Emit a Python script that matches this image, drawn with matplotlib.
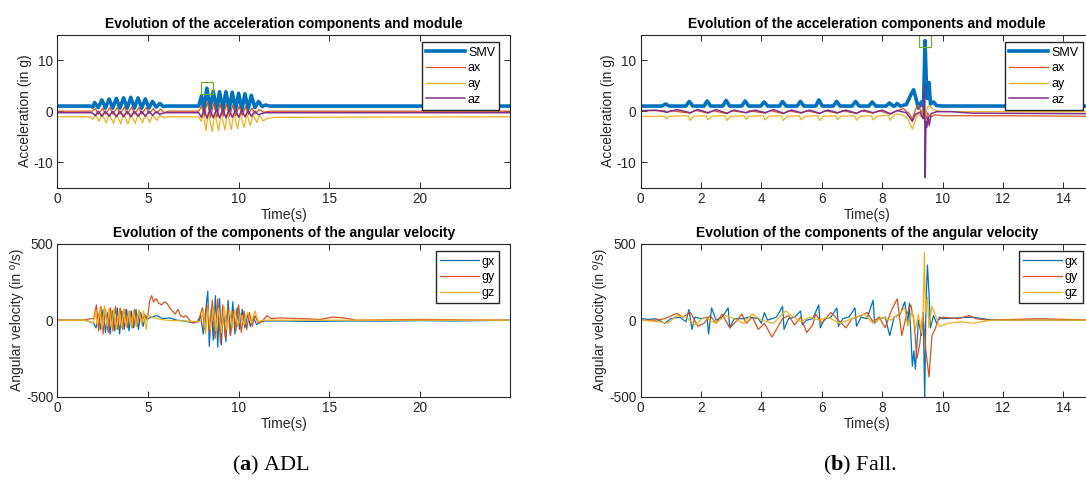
import matplotlib
matplotlib.use("Agg")
import matplotlib.pyplot as plt

plt.rcParams['font.family'] = ['Liberation Sans', 'DejaVu Sans']
plt.rcParams['axes.unicode_minus'] = False
plt.rcParams['mathtext.fontset'] = 'custom'
plt.rcParams['mathtext.rm'] = 'Liberation Serif'
plt.rcParams['mathtext.bf'] = 'Liberation Serif:bold'

BLUE = "#0072BD"
ORANGE = "#D95319"
YELLOW = "#EDB120"
PURPLE = "#7E2F8E"
GREEN = "#77AC30"

# ---------------- ADL : (time s, value) ----------------
adl_smv = [(0, 1.0), (1.8, 1.0), (1.95, 0.8), (2.05, 1.7), (2.25, 0.7), (2.45, 2.2), (2.65, 0.6),
           (2.85, 2.4), (3.05, 0.6), (3.25, 2.5), (3.45, 0.6), (3.65, 2.6), (3.85, 0.6), (4.05, 2.7),
           (4.25, 0.6), (4.45, 2.6), (4.65, 0.6), (4.85, 2.4), (5.05, 0.6), (5.25, 1.9), (5.45, 0.8),
           (5.65, 1.5), (5.85, 0.9), (6.0, 1.0), (7.8, 1.0), (7.95, 3.0), (8.08, 0.4), (8.25, 4.5),
           (8.42, 0.4), (8.6, 3.9), (8.78, 0.3), (8.95, 3.8), (9.13, 0.3), (9.3, 3.8), (9.48, 0.3),
           (9.65, 3.7), (9.83, 0.3), (10.0, 3.5), (10.18, 0.3), (10.35, 3.4), (10.53, 0.4), (10.7, 3.1),
           (10.9, 0.7), (11.1, 1.9), (11.3, 0.9), (11.5, 1.2), (11.7, 1.0), (25, 1.0)]

adl_ax = [(0, 0.0), (1.9, 0.0), (2.1, 0.5), (2.25, -0.6), (2.5, 0.6), (2.65, -0.6), (2.9, 0.7),
          (3.05, -0.6), (3.3, 0.7), (3.45, -0.6), (3.7, 0.8), (3.85, -0.6), (4.1, 0.8), (4.25, -0.6),
          (4.5, 0.7), (4.65, -0.6), (4.9, 0.7), (5.05, -0.5), (5.3, 0.5), (5.45, -0.4), (5.7, 0.4),
          (5.9, -0.3), (6.1, 0.0), (7.8, 0.0), (7.97, 1.0), (8.1, -1.0), (8.28, 2.0), (8.45, -1.2),
          (8.63, 1.6), (8.8, -1.2), (8.98, 1.5), (9.15, -1.0), (9.33, 1.4), (9.5, -1.0), (9.68, 1.2),
          (9.85, -0.9), (10.03, 1.0), (10.2, -0.8), (10.38, 0.9), (10.55, -0.7), (10.73, 0.6),
          (10.92, -0.5), (11.13, 0.3), (11.4, -0.2), (11.7, 0.0), (25, 0.0)]

adl_ay = [(0, -1.1), (1.8, -1.1), (1.95, -1.6), (2.1, -0.6), (2.3, -2.0), (2.45, -0.5), (2.7, -2.3),
          (2.85, -0.5), (3.1, -2.4), (3.25, -0.5), (3.5, -2.5), (3.65, -0.5), (3.9, -2.5), (4.05, -0.5),
          (4.3, -2.4), (4.45, -0.5), (4.7, -2.3), (4.85, -0.6), (5.1, -2.2), (5.25, -0.7), (5.5, -1.8),
          (5.65, -0.8), (5.85, -1.3), (6.0, -1.1), (7.8, -1.1), (7.93, -2.0), (8.05, -0.5), (8.2, -3.8),
          (8.32, -0.3), (8.55, -4.0), (8.68, -0.3), (8.9, -3.8), (9.03, -0.3), (9.25, -3.7), (9.38, -0.3),
          (9.6, -3.6), (9.73, -0.4), (9.95, -3.4), (10.08, -0.4), (10.3, -3.2), (10.45, -0.5),
          (10.65, -2.8), (10.8, -0.6), (11.0, -2.2), (11.15, -0.8), (11.35, -1.9), (11.6, -1.4),
          (12.0, -1.2), (25, -1.1)]

adl_az = [(0, -0.3), (1.9, -0.3), (2.1, -0.9), (2.25, 0.0), (2.45, -1.0), (2.65, 0.0), (2.85, -1.0),
          (3.05, 0.0), (3.25, -1.1), (3.45, 0.0), (3.65, -1.1), (3.85, 0.0), (4.05, -1.1), (4.25, 0.0),
          (4.45, -1.0), (4.65, 0.0), (4.85, -1.0), (5.05, 0.0), (5.25, -0.8), (5.45, -0.1), (5.65, -0.6),
          (5.9, -0.3), (7.8, -0.3), (7.95, -1.2), (8.1, 0.3), (8.25, -1.4), (8.42, 0.3), (8.6, -1.3),
          (8.78, 0.3), (8.95, -1.3), (9.13, 0.3), (9.3, -1.3), (9.48, 0.3), (9.65, -1.2), (9.83, 0.2),
          (10.0, -1.2), (10.18, 0.2), (10.35, -1.1), (10.53, 0.1), (10.7, -1.0), (10.9, 0.0),
          (11.1, -0.7), (11.4, -0.3), (25, -0.3)]

adl_gx = [(0, 0), (1.5, 0), (1.8, -10), (2.0, -20), (2.13, -50), (2.26, 40), (2.39, -60), (2.52, 70),
          (2.65, -80), (2.78, 50), (2.91, -90), (3.04, 60), (3.17, -70), (3.3, 80), (3.43, -90),
          (3.56, 60), (3.69, -60), (3.82, 70), (3.95, -70), (4.08, 60), (4.21, -50), (4.34, 70),
          (4.47, -60), (4.6, 50), (4.73, -40), (4.86, 30), (5.0, 10), (5.2, 20), (5.5, 30), (5.8, 10),
          (6.2, 15), (6.6, 0), (7.0, -5), (7.4, -15), (7.8, -10), (7.9, 30), (8.05, -90), (8.18, 60),
          (8.3, 190), (8.38, -170), (8.5, 80), (8.6, -130), (8.72, 160), (8.85, -175), (8.95, 140),
          (9.05, -160), (9.15, 80), (9.3, -140), (9.42, 130), (9.55, -100), (9.68, 120), (9.8, -90),
          (9.92, 80), (10.05, -60), (10.2, 70), (10.35, -50), (10.5, 40), (10.65, -40), (10.8, 20),
          (11.0, -30), (11.2, -10), (11.5, -5), (12.5, -5), (14, -8), (16, -5), (18, -6), (20, -3),
          (22, -5), (25, 0)]

adl_gy = [(0, 0), (1.5, 0), (1.8, 10), (2.0, 10), (2.15, 100), (2.28, -70), (2.4, 90), (2.52, -90),
          (2.65, 70), (2.8, -80), (2.93, 80), (3.06, -70), (3.2, 90), (3.33, -60), (3.46, 80),
          (3.6, -60), (3.73, 70), (3.86, -50), (4.0, 60), (4.13, -50), (4.26, 70), (4.4, -40),
          (4.53, 60), (4.66, -20), (4.8, 40), (4.95, 0), (5.1, 130), (5.2, 160), (5.3, 120), (5.45, 140),
          (5.6, 110), (5.75, 100), (5.9, 120), (6.05, 110), (6.2, 80), (6.35, 60), (6.5, 40), (6.65, 70),
          (6.8, 30), (6.95, 20), (7.1, 30), (7.3, 0), (7.5, -20), (7.7, -10), (7.85, 20), (8.0, 80),
          (8.12, -60), (8.25, 100), (8.4, -80), (8.55, 130), (8.7, -120), (8.85, 140), (9.0, -150),
          (9.12, 100), (9.27, -120), (9.4, 80), (9.55, -100), (9.7, 60), (9.85, -70), (10.0, 100),
          (10.15, -80), (10.3, 60), (10.45, -60), (10.6, 50), (10.75, -40), (10.9, 30), (11.1, -20),
          (11.3, -10), (11.55, 30), (11.8, 10), (12.3, 15), (13.5, 10), (14.5, 5), (15.2, 20),
          (15.8, 15), (16.5, 0), (20, 5), (25, 0)]

adl_gz = [(0, 0), (1.5, 0), (1.8, -10), (2.0, -20), (2.1, 60), (2.2, -30), (2.35, 80), (2.45, -60),
          (2.6, 90), (2.75, -40), (2.85, 80), (3.0, -50), (3.1, 70), (3.25, -60), (3.4, 60), (3.55, -50),
          (3.65, 70), (3.8, -40), (3.95, 60), (4.1, -50), (4.2, 60), (4.35, -40), (4.5, 70), (4.65, -30),
          (4.75, 60), (4.9, -60), (5.0, 40), (5.2, 20), (5.5, 10), (6.0, 0), (7.0, -5), (7.9, -10),
          (8.05, 70), (8.18, -90), (8.3, 80), (8.45, -60), (8.6, 90), (8.75, -70), (8.9, 80),
          (9.05, -80), (9.2, 90), (9.35, -60), (9.5, 70), (9.65, -50), (9.8, 70), (9.95, -40),
          (10.1, 40), (10.3, -30), (10.5, 50), (10.7, -20), (10.9, 60), (11.1, -10), (11.3, 0), (25, 0)]

# ---------------- Fall ----------------
fall_smv = [(0, 1.0), (0.7, 1.0), (0.83, 1.4), (0.95, 1.0), (1.5, 1.0), (1.61, 1.9), (1.73, 1.0),
            (2.1, 1.0), (2.2, 2.0), (2.32, 1.0), (2.72, 1.0), (2.83, 2.1), (2.95, 1.0), (3.35, 1.0),
            (3.46, 2.0), (3.58, 1.0), (3.98, 1.0), (4.09, 1.8), (4.21, 1.0), (4.6, 1.0), (4.7, 1.9),
            (4.82, 1.0), (5.18, 1.0), (5.29, 1.9), (5.41, 1.0), (5.8, 1.0), (5.9, 2.2), (6.02, 1.0),
            (6.38, 1.0), (6.49, 1.9), (6.61, 1.0), (7.0, 1.0), (7.12, 1.9), (7.24, 1.0), (7.56, 1.0),
            (7.67, 1.8), (7.79, 1.0), (8.13, 1.0), (8.24, 1.6), (8.36, 1.0), (8.42, 1.0), (8.49, 1.5),
            (8.6, 1.0), (8.8, 1.3), (8.95, 3.2), (9.04, 4.2), (9.12, 2.5), (9.2, 0.6), (9.3, 1.8),
            (9.37, 0.9), (9.42, 13.8), (9.46, 6.0), (9.5, 2.5), (9.55, 5.6), (9.6, 1.4), (9.7, 1.8),
            (9.8, 1.1), (10.0, 1.0), (15, 1.0)]

fall_ax = [(0, 0.1), (0.8, 0.1), (0.86, -0.3), (1.0, 0.1), (1.64, -0.4), (1.8, 0.2), (2.23, -0.4),
           (2.4, 0.1), (2.86, -0.5), (3.0, 0.1), (3.49, -0.3), (3.6, 0.1), (4.12, -0.4), (4.3, 0.1),
           (4.73, -0.5), (4.9, 0.1), (5.32, -0.4), (5.5, 0.1), (5.93, -0.5), (6.1, 0.1), (6.52, -0.4),
           (6.7, 0.1), (7.15, -0.5), (7.3, 0.1), (7.7, -0.4), (7.9, 0.1), (8.27, -0.6), (8.45, 0.0),
           (8.7, 0.5), (8.9, -0.5), (9.0, -1.6), (9.1, 0.3), (9.2, 1.2), (9.3, -0.4), (9.39, 1.5),
           (9.44, -2.0), (9.5, -0.3), (9.6, -1.2), (9.75, -0.7), (10.0, -0.9), (12, -0.9), (15, -1.0)]

fall_ay = [(0, -1.0), (0.8, -1.0), (0.86, -1.5), (0.95, -1.0), (1.58, -0.9), (1.64, -1.8), (1.75, -1.0),
           (2.17, -0.9), (2.23, -1.7), (2.35, -1.0), (2.8, -0.9), (2.86, -1.8), (2.98, -1.0),
           (3.43, -0.9), (3.49, -1.6), (3.6, -1.0), (4.06, -0.9), (4.12, -1.7), (4.24, -1.0),
           (4.67, -0.9), (4.73, -1.8), (4.85, -1.0), (5.26, -0.9), (5.32, -1.7), (5.44, -1.0),
           (5.87, -0.9), (5.93, -1.8), (6.05, -1.0), (6.46, -0.9), (6.52, -1.7), (6.64, -1.0),
           (7.09, -0.9), (7.15, -1.8), (7.27, -1.0), (7.64, -0.9), (7.7, -1.7), (7.82, -1.0),
           (8.21, -0.8), (8.27, -1.8), (8.38, -0.8), (8.5, -0.5), (8.7, -0.8), (8.85, -1.5),
           (9.0, -3.5), (9.08, -2.2), (9.18, -0.4), (9.3, -1.2), (9.38, 0.8), (9.42, -1.8),
           (9.47, 0.2), (9.52, 1.0), (9.6, 0.9), (9.7, 0.3), (9.9, 0.0), (10.5, -0.1), (15, -0.1)]

fall_az = [(0, 0.1), (0.5, 0.2), (0.86, -0.2), (1.2, 0.3), (1.64, -0.3), (1.9, 0.3), (2.23, -0.3),
           (2.5, 0.3), (2.86, -0.4), (3.1, 0.2), (3.49, -0.3), (3.8, 0.2), (4.12, -0.3), (4.4, 0.3),
           (4.73, -0.4), (5.0, 0.2), (5.32, -0.3), (5.6, 0.2), (5.93, -0.4), (6.2, 0.2), (6.52, -0.3),
           (6.8, 0.2), (7.15, -0.4), (7.4, 0.2), (7.7, -0.3), (8.0, 0.2), (8.27, -0.5), (8.5, 0.1),
           (8.8, -0.3), (9.0, -2.0), (9.1, -0.6), (9.25, -0.2), (9.36, -1.5), (9.405, 5.0),
           (9.425, -13.0), (9.45, -2.0), (9.48, -3.2), (9.52, -1.0), (9.56, -2.8), (9.62, -0.5),
           (9.8, -0.1), (10.3, -0.1), (11.0, -0.4), (15, -0.5)]

fall_gx = [(0, 10), (0.3, 5), (0.5, 10), (0.8, -20), (1.0, 10), (1.3, 20), (1.5, -10), (1.6, 70),
           (1.7, -60), (1.8, 20), (2.0, 10), (2.2, 20), (2.25, -90), (2.35, 80), (2.5, 0), (2.7, 20),
           (2.9, 80), (2.95, -50), (3.1, 10), (3.4, 10), (3.6, 20), (3.9, 10), (4.0, -20), (4.1, 50),
           (4.2, 0), (4.5, 20), (4.7, 90), (4.75, -60), (4.9, 10), (5.1, 20), (5.3, 60), (5.35, -30),
           (5.5, 0), (5.7, 10), (5.9, 100), (5.95, -50), (6.1, 10), (6.3, 20), (6.5, 80), (6.55, -40),
           (6.7, 10), (6.9, 20), (7.1, 80), (7.15, -40), (7.3, 20), (7.5, 10), (7.7, 130), (7.75, -20),
           (7.9, 10), (8.1, 20), (8.25, -100), (8.4, 20), (8.6, 40), (8.75, 120), (8.85, -20),
           (8.9, 110), (9.0, -300), (9.05, -200), (9.1, -320), (9.2, 0), (9.3, -100), (9.36, 50),
           (9.41, -520), (9.45, 100), (9.5, 360), (9.55, 180), (9.6, -50), (9.7, 30), (9.8, -20),
           (9.9, 20), (10.0, 10), (11, 20), (11.5, 5), (12, 0), (15, 0)]

fall_gy = [(0, 0), (0.5, 0), (0.8, 10), (1.2, 45), (1.4, 20), (1.65, 50), (1.9, -40), (2.1, -20),
           (2.3, 30), (2.5, -20), (2.7, 40), (2.95, -50), (3.2, 0), (3.35, 40), (3.5, -20), (3.7, 20),
           (3.9, -60), (4.1, -20), (4.35, -110), (4.5, -60), (4.7, 10), (4.9, 30), (5.1, -30), (5.3, 20),
           (5.5, -80), (5.7, -30), (5.8, 40), (6.0, -20), (6.3, 50), (6.5, 10), (6.8, -50), (7.0, 10),
           (7.3, 30), (7.5, 50), (7.7, -10), (7.9, 20), (8.1, -50), (8.3, 60), (8.5, 140), (8.65, -100),
           (8.8, 30), (8.95, 100), (9.05, 0), (9.15, -250), (9.25, -150), (9.35, 50), (9.45, -200),
           (9.55, -370), (9.65, -100), (9.75, -60), (9.85, 0), (10.0, 20), (10.5, 10), (10.9, 30),
           (11.1, 10), (11.5, 0), (13.2, 10), (15, 0)]

fall_gz = [(0, 0), (0.6, -10), (0.9, -20), (1.2, 30), (1.5, 20), (1.8, -30), (2.1, 20), (2.5, -20),
           (2.8, 30), (3.1, 10), (3.4, -20), (3.7, 40), (4.0, 0), (4.4, -20), (4.8, 60), (5.0, 30),
           (5.3, -10), (5.6, 20), (5.9, 0), (6.2, 20), (6.6, -20), (7.0, 10), (7.4, 40), (7.7, -20),
           (8.0, 20), (8.3, 0), (8.6, 50), (8.75, 80), (8.85, -40), (9.0, 60), (9.1, -60), (9.2, 40),
           (9.3, -80), (9.36, 80), (9.40, 440), (9.43, 50), (9.5, 150), (9.55, -50), (9.65, 90),
           (9.75, 40), (9.9, -40), (10.2, -20), (10.6, -10), (11.0, -20), (11.3, -10), (11.6, 0), (15, 0)]

adl_peak = (8.27, 4.5)
fall_peak = (9.42, 13.8)


def xy(pairs):
    t, v = zip(*pairs)
    return list(t), list(v)


def style(ax, xlim, ylim, xticks, yticks):
    ax.set_xlim(*xlim)
    ax.set_ylim(*ylim)
    ax.set_xticks(xticks)
    ax.set_yticks(yticks)
    ax.tick_params(direction='in', top=True, right=True, length=4, width=0.7,
                   labelsize=9.8, pad=3, colors='#262626')
    for s in ax.spines.values():
        s.set_linewidth(0.8)
        s.set_color('#262626')
    ax.set_xlabel("Time(s)", fontsize=10, labelpad=1.5, color='#262626')


def legend(ax):
    ax.legend(loc='upper right', bbox_to_anchor=(0.976, 0.95), borderaxespad=0,
              fontsize=9, handlelength=3.1, handletextpad=0.25, labelspacing=0.3,
              borderpad=0.35, fancybox=False, framealpha=1, edgecolor='#262626')


fig = plt.figure(figsize=(10.86, 4.93), dpi=100)
W, H = 0.417, 0.311
cols = [0.0529, 0.5899]

panels = [
    (adl_smv, adl_ax, adl_ay, adl_az, adl_gx, adl_gy, adl_gz, adl_peak, 25, [0, 5, 10, 15, 20]),
    (fall_smv, fall_ax, fall_ay, fall_az, fall_gx, fall_gy, fall_gz, fall_peak, 15,
     [0, 2, 4, 6, 8, 10, 12, 14]),
]

for left, (smv, ax_, ay_, az_, gx, gy, gz, peak, tmax, xt) in zip(cols, panels):
    a1 = fig.add_axes([left, 0.619, W, H])
    a1.plot(*xy(smv), color=BLUE, lw=2.6, label='SMV')
    a1.plot(*xy(ax_), color=ORANGE, lw=0.9, label='ax')
    a1.plot(*xy(ay_), color=YELLOW, lw=0.9, label='ay')
    a1.plot(*xy(az_), color=PURPLE, lw=1.1, label='az')
    a1.plot([peak[0]], [peak[1]], 's', ms=8, mfc='none', mec=GREEN, mew=0.9)
    style(a1, (0, tmax), (-15, 15), xt, [-10, 0, 10])
    a1.set_ylabel("Acceleration (in g)", fontsize=10, labelpad=1.5, color='#262626')
    a1.set_title("Evolution of the acceleration components and module",
                 fontsize=10, fontweight='bold', pad=5)
    legend(a1)

    a2 = fig.add_axes([left, 0.195, W, H])
    a2.plot(*xy(gx), color=BLUE, lw=0.9, label='gx')
    a2.plot(*xy(gy), color=ORANGE, lw=0.9, label='gy')
    a2.plot(*xy(gz), color=YELLOW, lw=0.9, label='gz')
    style(a2, (0, tmax), (-500, 500), xt, [-500, 0, 500])
    a2.set_ylabel("Angular velocity (in º/s)", fontsize=10, labelpad=1.5, color='#262626')
    a2.set_title("Evolution of the components of the angular velocity",
                 fontsize=10, fontweight='bold', pad=5)
    legend(a2)

cap = dict(fontsize=16, family='Liberation Serif', va='center', ha='center')
fig.text(0.249, 0.055, r"($\mathbf{a}$) ADL", **cap)
fig.text(0.792, 0.055, r"($\mathbf{b}$) Fall.", **cap)

fig.savefig("out.png", dpi=100)
